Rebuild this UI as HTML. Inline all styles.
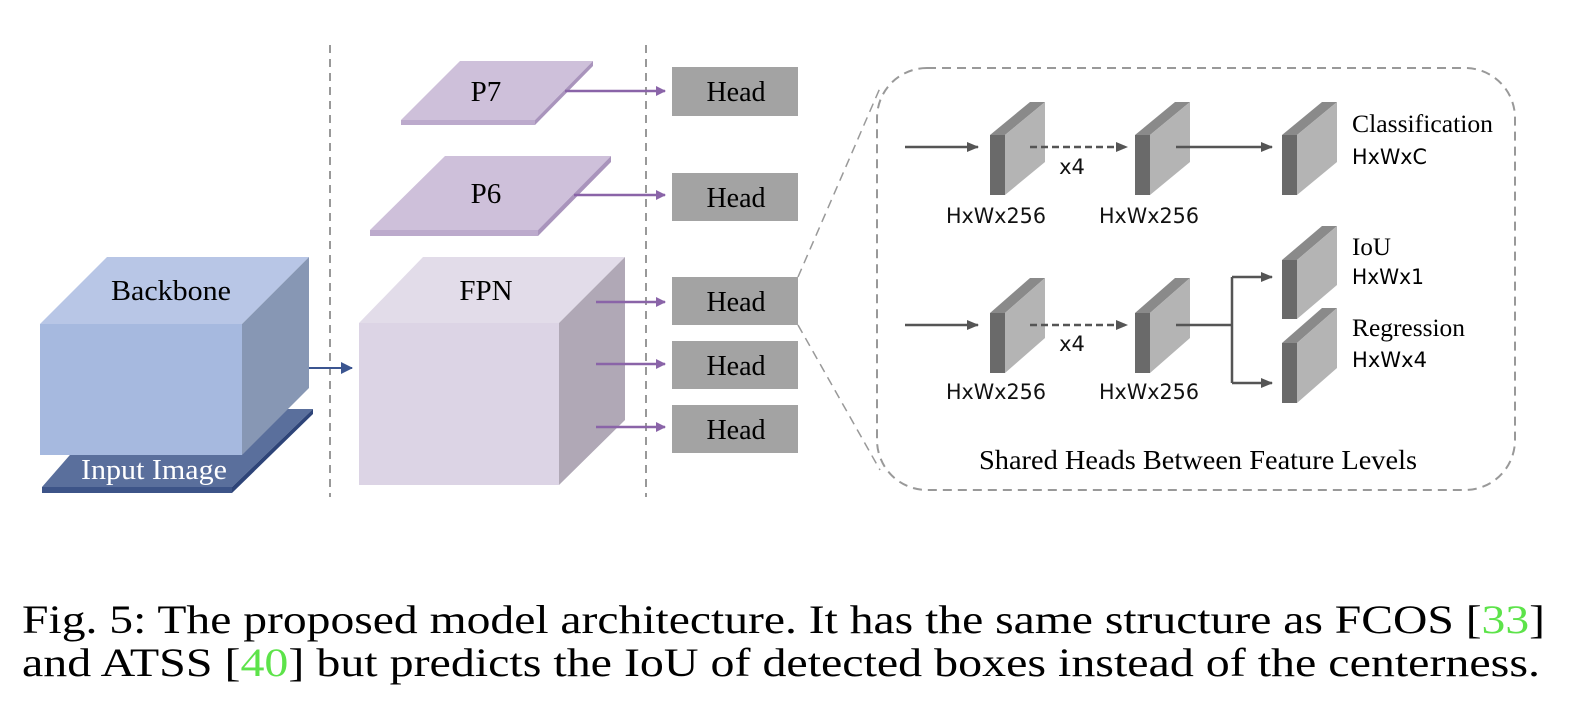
<!DOCTYPE html>
<html><head><meta charset="utf-8"><style>
html,body{margin:0;padding:0;background:#fff;}
svg{display:block;}
.s{font-family:"Liberation Serif",serif;}
.a{font-family:"DejaVu Sans","Liberation Sans",sans-serif;}
</style></head><body>
<svg width="1576" height="722" viewBox="0 0 1576 722" xmlns="http://www.w3.org/2000/svg">
<defs>
<marker id="pa" markerWidth="10" markerHeight="10" refX="9" refY="5" orient="auto" markerUnits="userSpaceOnUse"><path d="M0,0 L10,5 L0,10 z" fill="#8a64a8"/></marker>
<marker id="ba" markerWidth="12" markerHeight="12" refX="11" refY="6" orient="auto" markerUnits="userSpaceOnUse"><path d="M0,0 L12,6 L0,12 z" fill="#3b5590"/></marker>
<marker id="ga" markerWidth="12" markerHeight="12" refX="11" refY="6" orient="auto" markerUnits="userSpaceOnUse"><path d="M0,1 L12,6 L0,11 z" fill="#555"/></marker>
</defs>
<line x1="330" y1="45" x2="330" y2="497" stroke="#999" stroke-width="2" stroke-dasharray="8,6"/>
<line x1="646" y1="45" x2="646" y2="497" stroke="#999" stroke-width="2" stroke-dasharray="8,6"/>

<polygon points="110,409 313,409 232,487 42,487" fill="#5a6f9c"/>
<polygon points="42,487 232,487 232,493 42,493" fill="#3d5488"/>
<polygon points="232,487 313,409 313,414 232,493" fill="#2e4478"/>
<polygon points="40,324 107,257 309,257 242,324" fill="#b8c6e6"/>
<polygon points="242,324 309,257 309,388 242,455" fill="#8797b4"/>
<rect x="40" y="324" width="202" height="131" fill="#a6b9df"/>
<text x="171" y="300" class="s" font-size="29" text-anchor="middle" textLength="120" lengthAdjust="spacingAndGlyphs">Backbone</text>
<text x="154" y="479" class="s" font-size="29" text-anchor="middle" fill="#fff" textLength="146" lengthAdjust="spacingAndGlyphs">Input Image</text>
<line x1="309" y1="368" x2="352" y2="368" stroke="#3b5590" stroke-width="2" marker-end="url(#ba)"/>

<polygon points="359,323 423,257 625,257 559,323" fill="#e2dce9"/>
<polygon points="559,323 625,257 625,420 559,485" fill="#b0a8b6"/>
<rect x="359" y="323" width="200" height="162" fill="#dcd4e5"/>
<text x="486" y="300" class="s" font-size="29" text-anchor="middle">FPN</text>

<polygon points="460,61 593,61 535,120 401,120" fill="#cec0da"/>
<polygon points="401,120 535,120 535,125 401,125" fill="#bcaacc"/>
<polygon points="535,120 593,61 593,66 535,125" fill="#a994bc"/>
<text x="486" y="101" class="s" font-size="29" text-anchor="middle">P7</text>
<polygon points="445,156 611,156 538,230 370,230" fill="#cec0da"/>
<polygon points="370,230 538,230 538,236 370,236" fill="#bcaacc"/>
<polygon points="538,230 611,156 611,162 538,236" fill="#a994bc"/>
<text x="486" y="203" class="s" font-size="29" text-anchor="middle">P6</text>

<g stroke="#8a64a8" stroke-width="2.5" marker-end="url(#pa)">
<line x1="565" y1="91" x2="665" y2="91"/>
<line x1="574" y1="195" x2="665" y2="195"/>
<line x1="596" y1="302" x2="665" y2="302"/>
<line x1="596" y1="364" x2="665" y2="364"/>
<line x1="596" y1="427" x2="665" y2="427"/>
</g>

<g fill="#a3a3a3">
<rect x="672" y="67" width="126" height="49"/>
<rect x="672" y="173" width="126" height="48"/>
<rect x="672" y="277" width="126" height="48"/>
<rect x="672" y="341" width="126" height="48"/>
<rect x="672" y="405" width="126" height="48"/>
</g>
<g class="s" font-size="28" text-anchor="middle">
<text x="736" y="101">Head</text>
<text x="736" y="207">Head</text>
<text x="736" y="311">Head</text>
<text x="736" y="375">Head</text>
<text x="736" y="439">Head</text>
</g>

<rect x="877" y="68" width="638" height="422" rx="50" fill="none" stroke="#999" stroke-width="2" stroke-dasharray="9,6"/>
<line x1="798" y1="277" x2="880" y2="88" stroke="#999" stroke-width="1.5" stroke-dasharray="9,6"/>
<line x1="798" y1="325" x2="880" y2="470" stroke="#999" stroke-width="1.5" stroke-dasharray="9,6"/>

<polygon points="990,135 1030,102 1045,102 1005,135" fill="#8a8a8a"/>
<polygon points="1005,135 1045,102 1045,162 1005,195" fill="#b4b4b4"/>
<rect x="990" y="135" width="15" height="60" fill="#6a6a6a"/>
<polygon points="1135,135 1175,102 1190,102 1150,135" fill="#8a8a8a"/>
<polygon points="1150,135 1190,102 1190,162 1150,195" fill="#b4b4b4"/>
<rect x="1135" y="135" width="15" height="60" fill="#6a6a6a"/>
<polygon points="1282,135 1322,102 1337,102 1297,135" fill="#8a8a8a"/>
<polygon points="1297,135 1337,102 1337,162 1297,195" fill="#b4b4b4"/>
<rect x="1282" y="135" width="15" height="60" fill="#6a6a6a"/>
<polygon points="990,313 1030,278 1045,278 1005,313" fill="#8a8a8a"/>
<polygon points="1005,313 1045,278 1045,338 1005,373" fill="#b4b4b4"/>
<rect x="990" y="313" width="15" height="60" fill="#6a6a6a"/>
<polygon points="1135,313 1175,278 1190,278 1150,313" fill="#8a8a8a"/>
<polygon points="1150,313 1190,278 1190,338 1150,373" fill="#b4b4b4"/>
<rect x="1135" y="313" width="15" height="60" fill="#6a6a6a"/>
<polygon points="1282,260 1322,226 1337,226 1297,260" fill="#8a8a8a"/>
<polygon points="1297,260 1337,226 1337,285 1297,319" fill="#b4b4b4"/>
<rect x="1282" y="260" width="15" height="59" fill="#6a6a6a"/>
<polygon points="1282,343 1322,308 1337,308 1297,343" fill="#8a8a8a"/>
<polygon points="1297,343 1337,308 1337,368 1297,403" fill="#b4b4b4"/>
<rect x="1282" y="343" width="15" height="60" fill="#6a6a6a"/>

<g stroke="#555" stroke-width="2.5" fill="none">
<line x1="905" y1="147" x2="978" y2="147" marker-end="url(#ga)"/>
<line x1="1030" y1="147" x2="1127" y2="147" stroke-dasharray="7,4" marker-end="url(#ga)"/>
<line x1="1176" y1="147" x2="1272" y2="147" marker-end="url(#ga)"/>
<line x1="905" y1="325" x2="978" y2="325" marker-end="url(#ga)"/>
<line x1="1030" y1="325" x2="1127" y2="325" stroke-dasharray="7,4" marker-end="url(#ga)"/>
<polyline points="1176,325 1232,325"/>
<polyline points="1232,277 1232,383"/>
<line x1="1232" y1="277" x2="1272" y2="277" marker-end="url(#ga)"/>
<line x1="1232" y1="383" x2="1272" y2="383" marker-end="url(#ga)"/>
</g>

<g class="a" font-size="21" text-anchor="middle" fill="#111">
<text x="996" y="223" textLength="100" lengthAdjust="spacingAndGlyphs">HxWx256</text>
<text x="1149" y="223" textLength="100" lengthAdjust="spacingAndGlyphs">HxWx256</text>
<text x="996" y="399" textLength="100" lengthAdjust="spacingAndGlyphs">HxWx256</text>
<text x="1149" y="399" textLength="100" lengthAdjust="spacingAndGlyphs">HxWx256</text>
<text x="1072" y="174">x4</text>
<text x="1072" y="351">x4</text>
</g>
<g class="s" font-size="25">
<text x="1352" y="132" textLength="141" lengthAdjust="spacingAndGlyphs">Classification</text>
<text x="1352" y="255">IoU</text>
<text x="1352" y="336" textLength="113" lengthAdjust="spacingAndGlyphs">Regression</text>
</g>
<g class="a" font-size="21">
<text x="1352" y="164" textLength="75" lengthAdjust="spacingAndGlyphs">HxWxC</text>
<text x="1352" y="284" textLength="72" lengthAdjust="spacingAndGlyphs">HxWx1</text>
<text x="1352" y="367" textLength="75" lengthAdjust="spacingAndGlyphs">HxWx4</text>
</g>
<text x="1198" y="469" class="s" font-size="27" text-anchor="middle" textLength="438" lengthAdjust="spacingAndGlyphs">Shared Heads Between Feature Levels</text>

<text x="22" y="633" class="s" font-size="40" textLength="1523" lengthAdjust="spacingAndGlyphs">Fig. 5: The proposed model architecture. It has the same structure as FCOS [<tspan fill="#5de34a">33</tspan>]</text>
<text x="22" y="676" class="s" font-size="40" textLength="1518" lengthAdjust="spacingAndGlyphs">and ATSS [<tspan fill="#5de34a">40</tspan>] but predicts the IoU of detected boxes instead of the centerness.</text>
</svg>
</body></html>
